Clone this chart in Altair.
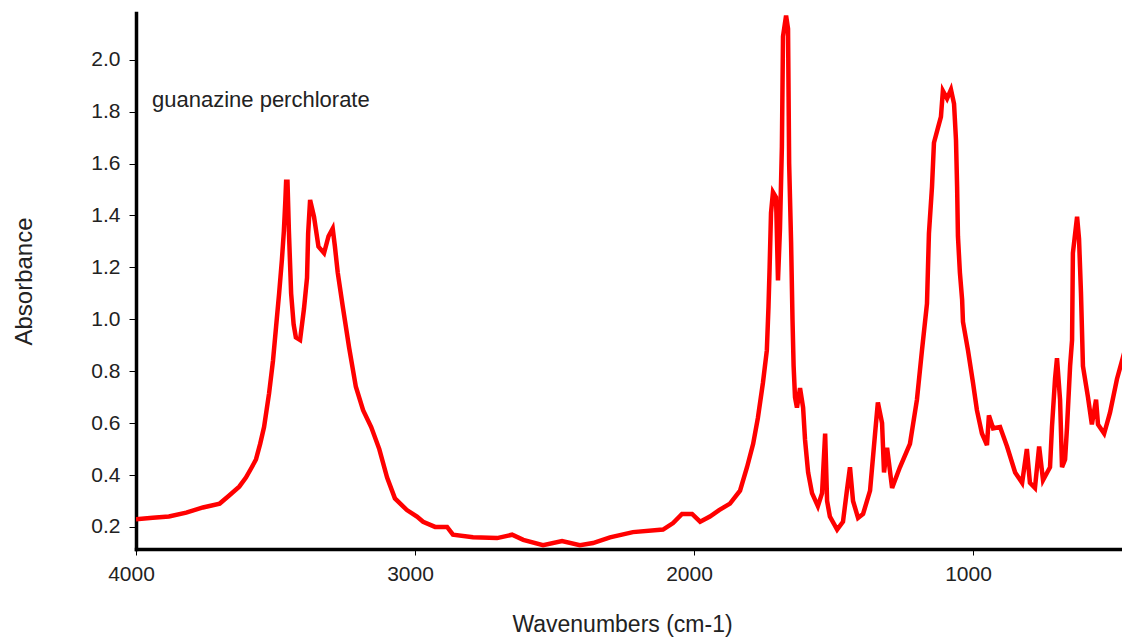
import altair as alt
import pandas as pd

wavenumbers = [
    4000, 3940, 3882, 3820, 3760, 3700, 3667, 3630, 3606, 3585, 3570, 3555, 3541, 3523,
    3509, 3498, 3487, 3477, 3470, 3465, 3462, 3457, 3452, 3444, 3435, 3427, 3412, 3398,
    3387, 3383, 3376, 3362, 3346, 3326, 3310, 3295, 3287, 3277, 3259, 3236, 3212, 3186,
    3157, 3128, 3100, 3072, 3029, 2993, 2971, 2928, 2885, 2864, 2792, 2706, 2652, 2612,
    2541, 2473, 2409, 2362, 2301, 2219, 2111, 2075, 2043, 2007, 1978, 1943, 1910, 1871,
    1835, 1810, 1788, 1771, 1753, 1739, 1733, 1729, 1724, 1717, 1706, 1699, 1692, 1685,
    1681, 1670, 1663, 1659, 1652, 1647, 1643, 1638, 1631, 1620, 1609, 1602, 1591, 1577,
    1556, 1541, 1530, 1523, 1513, 1487, 1466, 1452, 1441, 1430, 1412, 1394, 1369, 1351,
    1341, 1326, 1319, 1308, 1290, 1262, 1226, 1201, 1183, 1165, 1158, 1147, 1140, 1125,
    1115, 1108, 1093, 1079, 1068, 1061, 1057, 1054, 1047, 1039, 1036, 1018, 1000, 986,
    968, 950, 943, 928, 903, 878, 849, 824, 807, 796, 778, 763, 749, 724, 717, 706, 699,
    688, 681, 670, 663, 652, 645, 642, 627, 620, 613, 606, 588, 574, 559, 552, 530, 509,
    484, 466, 457, 444, 437,
]
absorbance = [
    0.23, 0.235, 0.24, 0.255, 0.275, 0.29, 0.32, 0.355, 0.39, 0.43, 0.46, 0.52, 0.585, 0.715,
    0.84, 0.97, 1.10, 1.23, 1.34, 1.45, 1.53, 1.53, 1.34, 1.10, 0.98, 0.93, 0.92, 1.04,
    1.16, 1.33, 1.46, 1.395, 1.28, 1.255, 1.32, 1.35, 1.28, 1.18, 1.05, 0.89, 0.74, 0.65,
    0.585, 0.50, 0.39, 0.31, 0.265, 0.24, 0.22, 0.20, 0.20, 0.17, 0.16, 0.157, 0.17, 0.15,
    0.13, 0.146, 0.13, 0.138, 0.16, 0.18, 0.19, 0.215, 0.25, 0.25, 0.22, 0.24, 0.265, 0.29,
    0.34, 0.43, 0.52, 0.62, 0.755, 0.88, 1.05, 1.20, 1.41, 1.49, 1.47, 1.15, 1.345, 1.665,
    2.09, 2.17, 2.12, 1.60, 1.295, 1.0, 0.82, 0.70, 0.66, 0.735, 0.66, 0.535, 0.41, 0.33,
    0.28, 0.33, 0.56, 0.30, 0.24, 0.19, 0.22, 0.34, 0.43, 0.30, 0.235, 0.25, 0.34, 0.56,
    0.68, 0.60, 0.41, 0.505, 0.35, 0.43, 0.52, 0.69, 0.88, 1.06, 1.33, 1.51, 1.68, 1.74,
    1.78, 1.88, 1.85, 1.885, 1.83, 1.69, 1.51, 1.32, 1.18, 1.075, 0.99, 0.88, 0.755, 0.65,
    0.56, 0.515, 0.63, 0.58, 0.585, 0.51, 0.41, 0.37, 0.50, 0.37, 0.35, 0.51, 0.38, 0.43, 0.585, 0.77, 0.85,
    0.69, 0.43, 0.46, 0.585, 0.82, 0.92, 1.255, 1.395, 1.31, 1.10, 0.82, 0.70, 0.595, 0.69, 0.595, 0.56, 0.64,
    0.77, 0.84, 0.805, 0.74, 0.71,
]
x_ticks = [4000, 3000, 2000, 1000]
y_ticks = [0.2, 0.4, 0.6, 0.8, 1.0, 1.2, 1.4, 1.6, 1.8, 2.0]
label_text = "guanazine perchlorate"
x_title = "Wavenumbers (cm-1)"
y_title = "Absorbance"

df = pd.DataFrame({"wn": wavenumbers, "abs": absorbance})

FONT = "Liberation Sans"

line = alt.Chart(df).mark_line(color="#ff0000", strokeWidth=4.5, clip=True).encode(
    x=alt.X(
        "wn:Q",
        scale=alt.Scale(domain=[4000, 466], nice=False, zero=False),
        axis=alt.Axis(
            values=x_ticks, format="d", title=x_title, grid=False,
            domainColor="black", domainWidth=3.5, domainCap="square",
            tickColor="black", tickWidth=1, tickSize=6,
            labelFont=FONT, labelFontSize=21, labelColor="#222", labelPadding=8,
            labelOffset=-5, labelFlush=False,
            titleFont=FONT, titleFontSize=23, titleFontWeight="normal", titleColor="#222",
            titleX=486, titleY=75, titleBaseline="middle",
        ),
    ),
    y=alt.Y(
        "abs:Q",
        scale=alt.Scale(domain=[0.115, 2.18], nice=False, zero=False),
        axis=alt.Axis(
            values=y_ticks, format=".1f", title=y_title, grid=False,
            domainColor="black", domainWidth=3.5, domainCap="square",
            tickColor="black", tickWidth=1, tickSize=7,
            labelFont=FONT, labelFontSize=21, labelColor="#222", labelPadding=9,
            titleFont=FONT, titleFontSize=24, titleFontWeight="normal", titleColor="#222",
            titleX=-112, titleY=268, titleBaseline="middle",
        ),
    ),
    order=alt.Order("idx:Q"),
).transform_window(idx="row_number()")

text = alt.Chart(pd.DataFrame({"t": [label_text]})).mark_text(
    align="left", baseline="alphabetic", fontSize=22, font=FONT, color="#222"
).encode(x=alt.value(16), y=alt.value(94), text="t:N")

chart = alt.layer(line, text).properties(
    width=986,
    height=536,
    autosize=alt.AutoSizeParams(type="none"),
    padding={"left": 128, "top": 5, "right": 0, "bottom": 88},
    background="white",
).configure_view(stroke=None)

chart.save("out.html", embed_options={"renderer": "svg", "actions": False})
